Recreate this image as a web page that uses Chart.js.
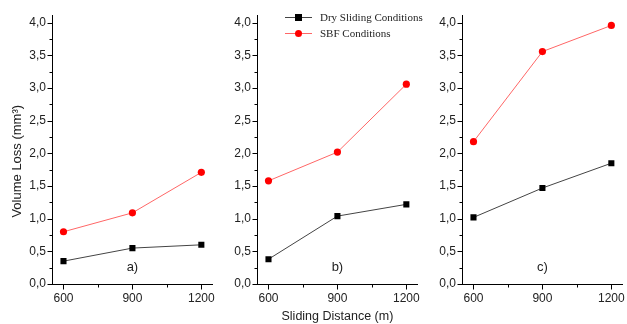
<!DOCTYPE html>
<html>
<head>
<meta charset="utf-8">
<script src="https://cdn.jsdelivr.net/npm/chart.js@4/dist/chart.umd.min.js"></script>
<style>
  body { margin: 0; background: #fff; }
  #wrap { position: relative; width: 627px; height: 324px; overflow: hidden; }
  .panel { position: absolute; top: 0; }
  #legend { position: absolute; left: 285px; top: 9px; font: 11px "Liberation Serif", serif; color: #222; }
  .row { position: relative; height: 16px; line-height: 16px; padding-left: 35px; }
  .row .ln { position: absolute; left: 0; top: 8px; width: 27px; height: 1px; }
  .row .mk { position: absolute; left: 10px; top: 5px; width: 7px; height: 7px; }
</style>
</head>
<body>
<div id="wrap">
  <div class="panel" style="left:0px"><canvas id="pa" width="222" height="324"></canvas></div>
  <div class="panel" style="left:205px"><canvas id="pb" width="222" height="324"></canvas></div>
  <div class="panel" style="left:410px"><canvas id="pc" width="222" height="324"></canvas></div>
  <div id="legend">
    <div class="row"><span class="ln" style="background:#444"></span><span class="mk" style="background:#000"></span>Dry Sliding Conditions</div>
    <div class="row"><span class="ln" style="background:#f66"></span><span class="mk" style="background:#f00;border-radius:50%"></span>SBF Conditions</div>
  </div>
</div>
<script>
// sliding distance (m)
const distances = [600, 900, 1200];
const xMinor = [750, 1050];

// volume loss (mm3) per panel
const dryA = [0.35, 0.55, 0.60];
const sbfA = [0.80, 1.09, 1.71];
const dryB = [0.38, 1.04, 1.22];
const sbfB = [1.58, 2.02, 3.06];
const dryC = [1.02, 1.47, 1.85];
const sbfC = [2.18, 3.56, 3.96];

const yMajor = [0, 0.5, 1.0, 1.5, 2.0, 2.5, 3.0, 3.5, 4.0];
const yMinor = [0.25, 0.75, 1.25, 1.75, 2.25, 2.75, 3.25, 3.75];

const panelLabels = ['a)', 'b)', 'c)'];

const AXIS_FONT = 'Liberation Sans, Arial, sans-serif';

// origin-style outward ticks, panel letter, y title
const originTicks = {
  id: 'originTicks',
  afterDraw(chart, args, opts) {
    const { ctx, scales: { x, y } } = chart;
    ctx.save();
    ctx.strokeStyle = '#000';
    ctx.lineWidth = 1;
    ctx.beginPath();
    const xl = Math.round(x.left) + 0.5;
    yMajor.concat(yMinor).forEach(v => {
      const py = Math.round(y.getPixelForValue(v)) + 0.5;
      const len = yMajor.includes(v) ? 5 : 3;
      ctx.moveTo(xl, py);
      ctx.lineTo(xl - len, py);
    });
    const yb = Math.round(y.bottom) + 0.5;
    distances.concat(xMinor).forEach(v => {
      const px = Math.round(x.getPixelForValue(v)) + 0.5;
      const len = distances.includes(v) ? 5 : 3;
      ctx.moveTo(px, yb);
      ctx.lineTo(px, yb + len);
    });
    ctx.stroke();
    ctx.fillStyle = '#222';
    ctx.font = '13px ' + AXIS_FONT;
    ctx.textAlign = 'center';
    ctx.textBaseline = 'middle';
    ctx.fillText(opts.label, x.getPixelForValue(900), y.getPixelForValue(0.26));
    if (opts.yTitle) {
      ctx.translate(17.5, y.getPixelForValue(1.88));
      ctx.rotate(-Math.PI / 2);
      ctx.font = '13px ' + AXIS_FONT;
      ctx.fillText(opts.yTitle, 0, 0);
    }
    ctx.restore();
  }
};

function makePanel(id, dry, sbf, label, yTitle, xTitle) {
  const pts = arr => arr.map((v, i) => ({ x: distances[i], y: v }));
  new Chart(document.getElementById(id), {
    type: 'line',
    data: {
      datasets: [
        { label: 'Dry Sliding Conditions', data: pts(dry), borderColor: '#444', borderWidth: 1,
          pointStyle: 'rect', pointRadius: 4.3, pointBackgroundColor: '#000', pointBorderWidth: 0 },
        { label: 'SBF Conditions', data: pts(sbf), borderColor: '#f66', borderWidth: 1,
          pointStyle: 'circle', pointRadius: 3.6, pointBackgroundColor: '#f00', pointBorderWidth: 0 }
      ]
    },
    options: {
      responsive: false,
      animation: false,
      layout: { padding: { top: 15, right: 4, left: 0, bottom: 0 } },
      plugins: { legend: { display: false }, tooltip: { enabled: false }, originTicks: { label, yTitle } },
      scales: {
        x: {
          type: 'linear', min: 550, max: 1250,
          afterBuildTicks: s => { s.ticks = distances.map(v => ({ value: v })); },
          afterFit: s => { s.height = 40; },
          grid: { display: false, drawTicks: false },
          border: { display: true, color: '#000', width: 1 },
          ticks: { color: '#222', padding: 7, font: { family: AXIS_FONT, size: 12 }, maxRotation: 0,
                   callback: v => String(v) },
          title: { display: !!xTitle, text: xTitle || '', color: '#222', padding: { top: 0, bottom: 0 },
                   font: { family: AXIS_FONT, size: 12.5 } }
        },
        y: {
          min: 0, max: 4.12,
          afterBuildTicks: s => { s.ticks = yMajor.map(v => ({ value: v })); },
          afterFit: s => { s.width = 52; },
          grid: { display: false, drawTicks: false },
          border: { display: true, color: '#000', width: 1 },
          ticks: { color: '#222', padding: 6, font: { family: AXIS_FONT, size: 12 },
                   callback: v => v.toFixed(1).replace('.', ',') }
        }
      }
    },
    plugins: [originTicks]
  });
}

makePanel('pa', dryA, sbfA, panelLabels[0], 'Volume Loss (mm³)', null);
makePanel('pb', dryB, sbfB, panelLabels[1], null, 'Sliding Distance (m)');
makePanel('pc', dryC, sbfC, panelLabels[2], null, null);
</script>
</body>
</html>
